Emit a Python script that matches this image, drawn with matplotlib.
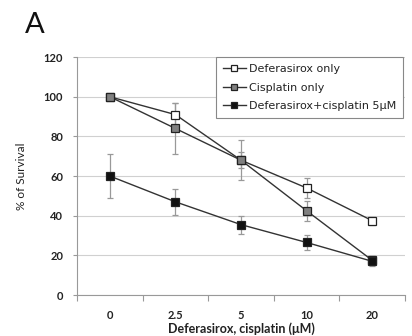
import matplotlib.pyplot as plt
import numpy as np

plt.rcParams['font.family'] = ['Lato', 'DejaVu Sans']

# data
doses = ['0', '2.5', '5', '10', '20']
defer_only = [100, 91, 68, 54, 37.5]
defer_err = [0, 6, 4, 5, 2]
cis_only = [100, 84, 68, 42.5, 17.5]
cis_err = [0, 13, 10, 5, 2]
combo = [60, 47, 35.5, 26.5, 17]
combo_err = [11, 6.5, 4.5, 4, 2.5]

fig = plt.figure(figsize=(4.12, 3.36), dpi=100)
ax = fig.add_axes([0.187, 0.122, 0.796, 0.708])

x = np.arange(len(doses))
line_col = '#333333'
err_col = '#999999'
txt_col = '#222222'

series = [
    (defer_only, defer_err, 'white', 'Deferasirox only'),
    (cis_only, cis_err, '#808080', 'Cisplatin only'),
    (combo, combo_err, '#111111', 'Deferasirox+cisplatin 5\u03bcM'),
]
handles = []
for vals, errs, fc, lab in series:
    eb = ax.errorbar(x, vals, yerr=errs, color=line_col, ecolor=err_col, elinewidth=0.9,
                     capsize=2.5, capthick=0.9, lw=1.0, marker='s', ms=5.5,
                     mfc=fc, mec='#222222', mew=0.9, label=lab, zorder=3)
    handles.append(eb[0])

ax.set_xlim(-0.5, 4.5)
ax.set_ylim(0, 120)
ax.set_yticks(np.arange(0, 121, 20))
ax.set_xticks(x)
ax.set_xticklabels(doses, fontweight='bold', color=txt_col)
ax.set_yticklabels([str(v) for v in range(0, 121, 20)], fontweight='bold', color=txt_col)
ax.set_xticks(np.arange(-0.5, 4.6, 1), minor=True)
ax.tick_params(axis='x', which='major', length=0, pad=11, labelsize=8)
ax.tick_params(axis='x', which='minor', length=4, color='#999999', width=0.8)
ax.tick_params(axis='y', length=3, color='#999999', width=0.8, labelsize=8, pad=7)

ax.grid(axis='y', color='#d0d0d0', lw=0.8, zorder=0)
for s in ['top', 'right']:
    ax.spines[s].set_visible(False)
for s in ['left', 'bottom']:
    ax.spines[s].set_color('#999999')
    ax.spines[s].set_linewidth(0.8)

ax.set_ylabel('% of Survival', fontsize=8.5, labelpad=12, color=txt_col)
ax.set_xlabel('Deferasirox, cisplatin (\u03bcM)', fontsize=9, fontweight='bold',
              labelpad=1, color=txt_col)

leg = ax.legend(handles, [s[3] for s in series], loc='upper right',
                bbox_to_anchor=(0.995, 1.0), borderaxespad=0,
                prop={'family': 'DejaVu Sans', 'size': 8},
                fancybox=False, framealpha=1, edgecolor='#888888',
                handlelength=2.0, handletextpad=0.3, labelspacing=0.75,
                borderpad=0.65, markerscale=0.7)
leg.get_frame().set_linewidth(0.8)
for t in leg.get_texts():
    t.set_color(txt_col)

fig.text(0.06, 0.902, 'A', fontsize=21, color='#111111')

fig.savefig('out.png', dpi=100)
